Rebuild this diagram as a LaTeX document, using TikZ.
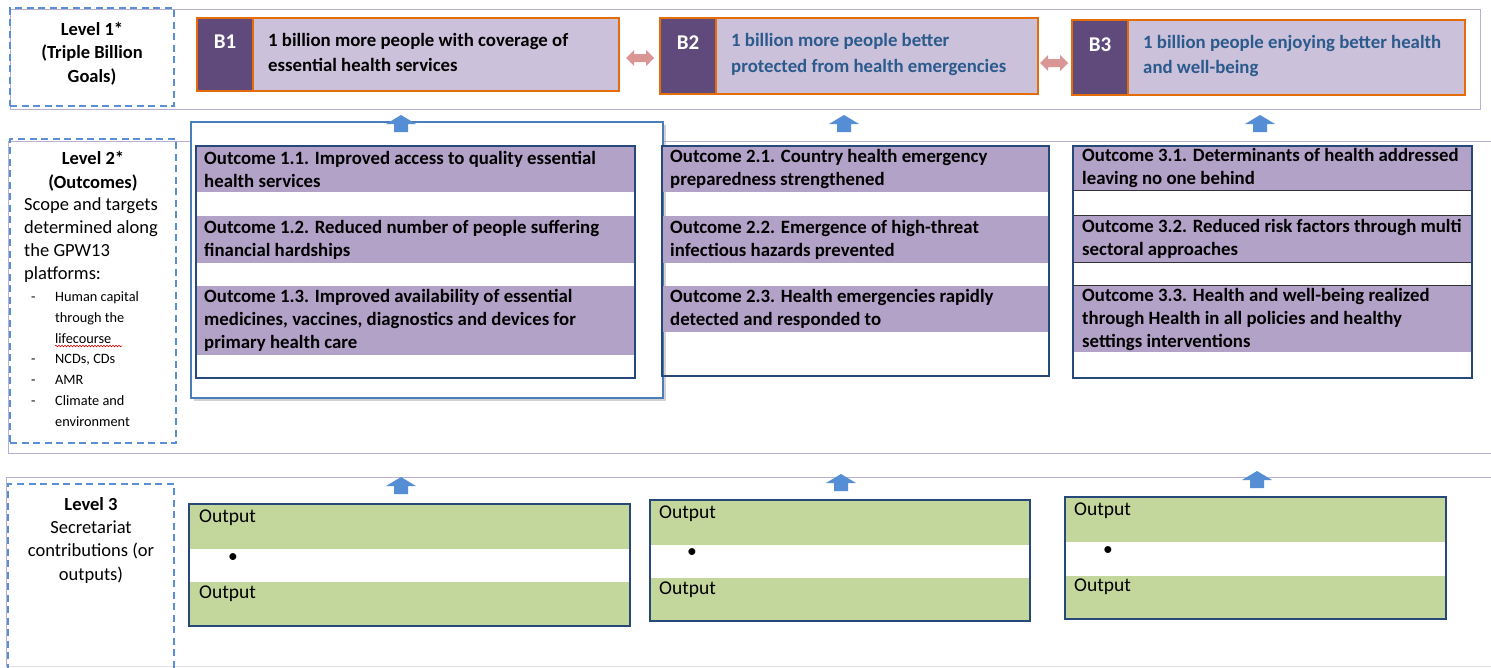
\documentclass[tikz,border=0pt]{standalone}
\usepackage{fontspec}
\setmainfont{Carlito}
\usetikzlibrary{shadows,decorations.pathmorphing}

\definecolor{lavline}{HTML}{BBAFD1}
\definecolor{dashblue}{HTML}{5B8FD3}
\definecolor{bpale}{HTML}{CCC1DA}
\definecolor{bdeep}{HTML}{5F4A7B}
\definecolor{borange}{HTML}{E46C0A}
\definecolor{band}{HTML}{B3A2C7}
\definecolor{navy}{HTML}{26497A}
\definecolor{hiblue}{HTML}{4A7EBB}
\definecolor{upblue}{HTML}{558ED5}
\definecolor{pinkarr}{HTML}{D99694}
\definecolor{leaf}{HTML}{C3D69B}
\definecolor{goaltext}{HTML}{2B5A8C}
\definecolor{cellline}{HTML}{333333}

% multi-line text nodes below are anchored at the baseline of their last line
\tikzset{
  rowline/.style={draw=lavline, line width=0.9pt},
  corner/.style={anchor=north west, inner sep=0pt, outer sep=0pt},
  levelbox/.style={corner, draw=dashblue, line width=1.6pt, dash pattern=on 7pt off 4.5pt},
  goalfill/.style={corner, fill=bpale},
  goaltag/.style={corner, fill=bdeep},
  goalframe/.style={corner, draw=borange, line width=1.6pt},
  tagtext/.style={text=white, font=\fontsize{21}{24}\selectfont\bfseries},
  goalline/.style={anchor=base west, inner sep=0pt, align=left,
    font=\fontsize{18.8}{25.5}\selectfont\bfseries},
  leveltitle/.style={anchor=base, align=center, inner sep=0pt, font=\fontsize{18.5}{23.3}\selectfont\bfseries},
  levelnote/.style={anchor=base west, align=left, inner sep=0pt, font=\fontsize{18.5}{23}\selectfont},
  listnote/.style={anchor=base west, align=left, inner sep=0pt, font=\fontsize{14.3}{21}\selectfont},
  outframe/.style={corner, draw=navy, line width=1.8pt},
  bandcell/.style={corner, fill=band},
  gridcell/.style={corner, draw=cellline, line width=1pt},
  bandtext/.style={anchor=west, align=left, inner sep=0pt, font=\fontsize{18.8}{23}\selectfont\bfseries},
  leafcell/.style={corner, fill=leaf},
  leaftext/.style={anchor=west, inner sep=0pt, font=\fontsize{19.5}{22}\selectfont},
  highlight/.style={corner, draw=hiblue, line width=2.6pt, fill=white,
    drop shadow={shadow xshift=3pt, shadow yshift=-3pt, opacity=0.35}},
  pics/uparrow/.style={code={
    \fill[upblue] (-7,8) -- (-7,0) -- (-15,0) -- (0,-9) -- (15,0) -- (7,0) -- (7,8) -- cycle;}},
  pics/twoway/.style={code={
    \fill[pinkarr] (-14,0) -- (-6,-8) -- (-6,-4) -- (6,-4) -- (6,-8) -- (14,0)
      -- (6,8) -- (6,4) -- (-6,4) -- (-6,8) -- cycle;}},
}

\begin{document}
\begin{tikzpicture}[x=1pt,y=-1pt]
\useasboundingbox (0,0) rectangle (1491,667);
\fill[white] (0,0) rectangle (1491,667);

% ---------- band frames of the three levels
\draw[rowline] (10,9) rectangle (1480,109);
\draw[rowline] (1491,141) -- (8,141) -- (8,453) -- (1491,453);
\draw[rowline] (1491,477) -- (6,477) -- (6,667);
\draw[rowline, draw opacity=0.4] (6,666) -- (1491,666);

% ---------- level labels
\node[levelbox, minimum width=164, minimum height=98] (L1) at (10,8) {};
\node[leveltitle] (L1t) at (92,82) {Level 1*\\(Triple Billion\\Goals)};

\node[levelbox, minimum width=166, minimum height=304] (L2) at (10,139) {};
\node[leveltitle] (L2t) at (93,188) {Level 2*\\(Outcomes)};
\node[levelnote] (L2n) at (24,279) {Scope and targets\\determined along\\the GPW13\\platforms:};
\node[listnote] (d1) at (31,301) {-};
\node[listnote] (d2) at (31,363) {-};
\node[listnote] (d3) at (31,384) {-};
\node[listnote] (d4) at (31,405) {-};
\node[listnote] (p1) at (55,343) {Human capital\\through the\\lifecourse};
\node[listnote] (p2) at (55,363) {NCDs, CDs};
\node[listnote] (p3) at (55,384) {AMR};
\node[listnote] (p4) at (55,426) {Climate and\\environment};
\draw[red!85!black, line width=0.6pt, decorate,
      decoration={snake, amplitude=0.8pt, segment length=3pt}] (55,346) -- (122,346);

\node[levelbox, minimum width=166, minimum height=190] (L3) at (8,484) {};
\node[leveltitle] (L3t) at (91,580) {Level 3\\\mdseries Secretariat\\\mdseries contributions (or\\\mdseries outputs)};

% ---------- level 1: the three billion goals
\node[goalfill, minimum width=422, minimum height=73] (B1) at (197,18) {};
\node[goaltag,  minimum width=56,  minimum height=73] (B1k) at (197,18) {};
\node[goalframe, minimum width=422, minimum height=73] (B1f) at (197,18) {};
\draw[borange, line width=1.6pt] (B1k.north east) -- (B1k.south east);
\node[tagtext] at (225,42) {B1};
\node[goalline] (B1t) at (268,71.5) {1 billion more people with coverage of\\essential health services};

\node[goalfill, minimum width=378, minimum height=76] (B2) at (660,18) {};
\node[goaltag,  minimum width=56,  minimum height=76] (B2k) at (660,18) {};
\node[goalframe, minimum width=378, minimum height=76] (B2f) at (660,18) {};
\draw[borange, line width=1.6pt] (B2k.north east) -- (B2k.south east);
\node[tagtext] at (688,43) {B2};
\node[goalline, text=goaltext] (B2t) at (731,72) {1 billion more people better\\protected from health emergencies};

\node[goalfill, minimum width=393, minimum height=75] (B3) at (1072,20) {};
\node[goaltag,  minimum width=56,  minimum height=75] (B3k) at (1072,20) {};
\node[goalframe, minimum width=393, minimum height=75] (B3f) at (1072,20) {};
\draw[borange, line width=1.6pt] (B3k.north east) -- (B3k.south east);
\node[tagtext] at (1100,45) {B3};
\node[goalline, text=goaltext] (B3t) at (1143,73.5) {1 billion people enjoying better health\\and well-being};

\pic at (640,58) {twoway};
\pic at (1054,63) {twoway};

% ---------- level 2: outcomes
\node[highlight, minimum width=472, minimum height=276] (H1) at (191,122) {};

\node[bandcell, minimum width=439, minimum height=46] (O11) at (196,146) {};
\node[bandcell, minimum width=439, minimum height=47] (O12) at (196,216) {};
\node[bandcell, minimum width=439, minimum height=69] (O13) at (196,286) {};
\node[outframe, minimum width=439, minimum height=232] (O1) at (196,146) {};
\node[bandtext] at (204,169) {Outcome 1.1. Improved access to quality essential\\health services};
\node[bandtext] at (204,239.5) {Outcome 1.2. Reduced number of people suffering\\financial hardships};
\node[bandtext] at (204,320.5) {Outcome 1.3. Improved availability of essential\\medicines, vaccines, diagnostics and devices for\\primary health care};

\node[bandcell, minimum width=387, minimum height=46] (O21) at (662,146) {};
\node[bandcell, minimum width=387, minimum height=47] (O22) at (662,216) {};
\node[bandcell, minimum width=387, minimum height=46] (O23) at (662,286) {};
\node[outframe, minimum width=387, minimum height=230] (O2) at (662,146) {};
\node[bandtext] at (670,169) {Outcome 2.1. Country health emergency\\preparedness strengthened};
\node[bandtext] at (670,239.5) {Outcome 2.2. Emergence of high-threat\\infectious hazards prevented};
\node[bandtext] at (670,309) {Outcome 2.3. Health emergencies rapidly\\detected and responded to};

\node[bandcell, minimum width=399, minimum height=44] (O31) at (1073,146) {};
\node[bandcell, minimum width=399, minimum height=47] (O32) at (1073,215) {};
\node[bandcell, minimum width=399, minimum height=67] (O33) at (1073,285) {};
\node[gridcell, minimum width=399, minimum height=44] (G31) at (1073,146) {};
\node[gridcell, minimum width=399, minimum height=25] (G3a) at (1073,190) {};
\node[gridcell, minimum width=399, minimum height=47] (G32) at (1073,215) {};
\node[gridcell, minimum width=399, minimum height=23] (G3b) at (1073,262) {};
\node[outframe, minimum width=399, minimum height=232] (O3) at (1073,146) {};
\node[bandtext] at (1082,168) {Outcome 3.1. Determinants of health addressed\\leaving no one behind};
\node[bandtext] at (1082,239) {Outcome 3.2. Reduced risk factors through multi\\sectoral approaches};
\node[bandtext] at (1082,319.5) {Outcome 3.3. Health and well-being realized\\through Health in all policies and healthy\\settings interventions};

% ---------- level 3: outputs
\node[leafcell, minimum width=441, minimum height=45] (P1a) at (189,504) {};
\node[leafcell, minimum width=441, minimum height=44] (P1b) at (189,582) {};
\node[outframe, minimum width=441, minimum height=122] (P1) at (189,504) {};
\node[leaftext] at (199,518) {Output};
\node[leaftext] at (199,594) {Output};
\node[leaftext] at (228,558) {•};

\node[leafcell, minimum width=380, minimum height=45] (P2a) at (650,500) {};
\node[leafcell, minimum width=380, minimum height=43] (P2b) at (650,578) {};
\node[outframe, minimum width=380, minimum height=121] (P2) at (650,500) {};
\node[leaftext] at (659,514) {Output};
\node[leaftext] at (659,590) {Output};
\node[leaftext] at (687,553) {•};

\node[leafcell, minimum width=381, minimum height=45] (P3a) at (1065,497) {};
\node[leafcell, minimum width=381, minimum height=43] (P3b) at (1065,576) {};
\node[outframe, minimum width=381, minimum height=122] (P3) at (1065,497) {};
\node[leaftext] at (1074,511) {Output};
\node[leaftext] at (1074,587) {Output};
\node[leaftext] at (1103,551) {•};

% ---------- upward block arrows between the levels
\pic at (401,124) {uparrow};
\pic at (844,124) {uparrow};
\pic at (1260,124) {uparrow};
\pic at (401,486) {uparrow};
\pic at (841,483) {uparrow};
\pic at (1257,480) {uparrow};
\end{tikzpicture}
\end{document}
